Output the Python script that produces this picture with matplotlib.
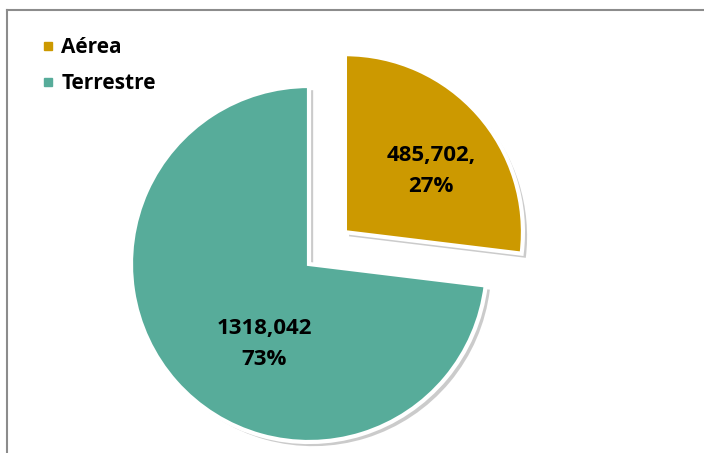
import matplotlib.pyplot as plt
from matplotlib.lines import Line2D
import matplotlib.patheffects as pe

categories = ['Aérea', 'Terrestre']
values = [485702, 1318042]
percent_labels = ['27%', '73%']
value_labels = ['485,702,', '1318,042']
colors = ['#CC9900', '#57AC9A']

plt.rcParams['font.family'] = ['Open Sans', 'DejaVu Sans']

fig = plt.figure(figsize=(7.04, 4.53), dpi=100)
ax = fig.add_axes([0, 0, 1, 1])

shadow = [pe.SimplePatchShadow(offset=(3, -3), shadow_rgbFace='#999999', alpha=0.5), pe.Normal()]

# explode is in data units here (pixels), not a fraction of the radius
wedges, texts, autotexts = ax.pie(
    values, startangle=90, counterclock=False, explode=[48, 0],
    radius=178, center=(309, 189), colors=colors,
    wedgeprops=dict(edgecolor='white', linewidth=3, path_effects=shadow),
    autopct=lambda p: '', frame=True)
ax.set_xlim(0, 704)
ax.set_ylim(0, 453)
ax.axis('off')

for t, v, p in zip(autotexts, value_labels, percent_labels):
    t.set_text(v + '\n' + p)
    t.set_fontsize(16)
    t.set_fontweight('bold')
    t.set_linespacing(1.6)
autotexts[0].set_position((431, 282))
autotexts[1].set_position((264, 109))

handles = [Line2D([], [], marker='s', linestyle='', color=c, markersize=6) for c in colors]
leg = ax.legend(handles, categories, loc='upper left', bbox_to_anchor=(27 / 704, 1 - 27 / 453),
                frameon=False, prop=dict(weight='bold', size=15), handletextpad=0.15,
                handlelength=1.0, labelspacing=0.72, borderpad=0)

# chart frame (only top and left edges are visible)
fig.add_artist(Line2D([7 / 704, 1], [1 - 10 / 453, 1 - 10 / 453], color='#8c8c8c', lw=1.5))
fig.add_artist(Line2D([7 / 704, 7 / 704], [0, 1 - 10 / 453], color='#8c8c8c', lw=1.5))

fig.savefig('out.png', dpi=100)
